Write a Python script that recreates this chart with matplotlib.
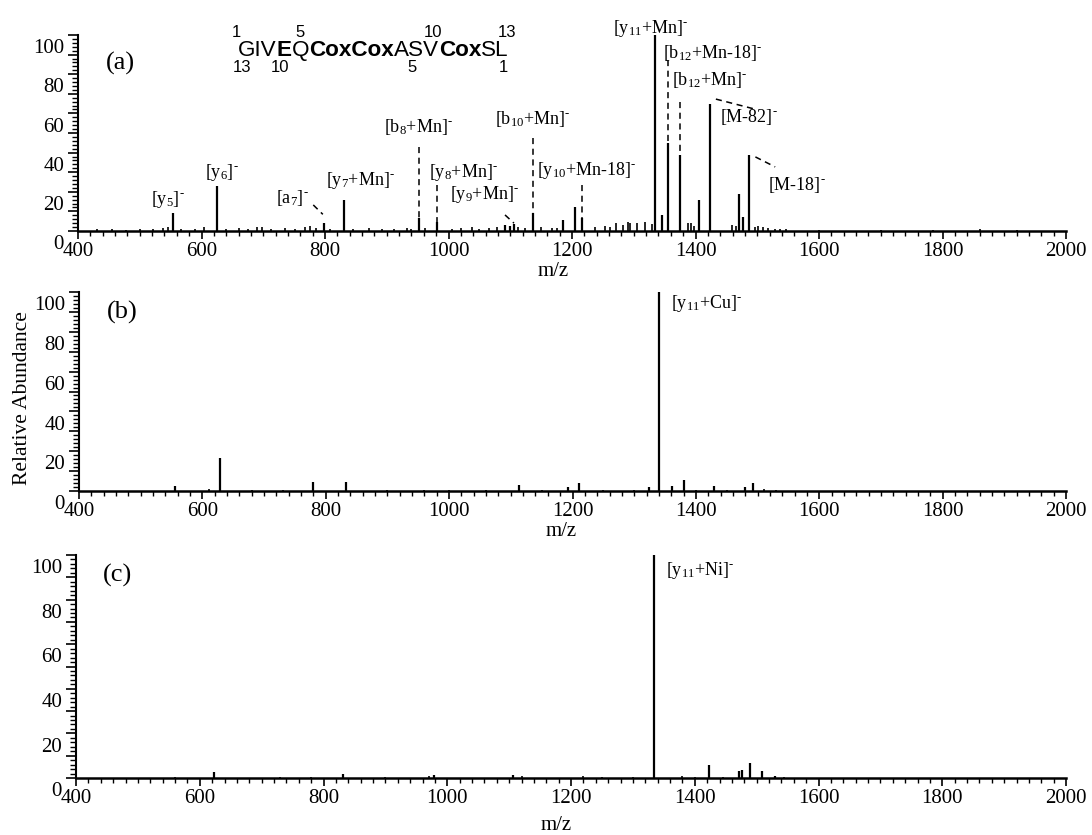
import matplotlib
matplotlib.use("Agg")
import matplotlib.pyplot as plt
from matplotlib.ticker import FixedLocator, MultipleLocator, FuncFormatter
import matplotlib.transforms as mtransforms

plt.rcParams['font.family'] = ['Liberation Serif', 'DejaVu Serif']
plt.rcParams['mathtext.fontset'] = 'custom'
plt.rcParams['mathtext.rm'] = 'Liberation Serif'
plt.rcParams['mathtext.it'] = 'Liberation Serif:italic'

# ---------------- data ----------------
# panel (a): Mn complex
peaks_a_mz = [554, 625, 798, 830, 951.5, 981, 1092, 1100, 1106, 1137, 1186, 1205, 1216,
              1335, 1345, 1356, 1375, 1406, 1424, 1471, 1477, 1487]
peaks_a_int = [9, 23, 4, 16, 6.5, 4.6, 3, 2.5, 3.5, 9, 5.6, 12, 6.5,
               100, 8, 45, 39, 16, 65, 19, 7, 39]
noise_a_mz = [430, 455, 478, 500, 521, 538, 546, 566, 590, 604, 640, 660, 676, 690, 698,
              712, 735, 752, 768, 776, 786, 808, 846, 872, 893, 912, 932, 940, 962, 1006,
              1020, 1038, 1050, 1066, 1078, 1112, 1124, 1150, 1168, 1176, 1237, 1253, 1262,
              1272, 1283, 1291, 1294, 1305, 1318, 1329, 1388, 1393, 1398, 1459, 1466, 1496,
              1502, 1510, 1518, 1528, 1537, 1546, 1600, 1700, 1785, 1860, 1920]
noise_a_int = [0.8, 1.0, 0.7, 1.2, 0.9, 1.5, 2.0, 1.2, 1.0, 1.8, 1.0, 1.4, 1.2, 2.0, 1.8,
               1.0, 1.3, 1.2, 2.2, 2.8, 1.5, 1.2, 1.0, 1.6, 1.2, 1.0, 1.4, 1.1, 1.6, 1.2,
               1.4, 1.8, 1.2, 1.5, 2.0, 2.2, 1.5, 2.0, 1.4, 1.6, 2.2, 2.5, 2.0,
               4.0, 3.0, 4.6, 4.2, 4.0, 4.6, 3.6, 4.0, 4.2, 2.5, 3.0, 2.5, 2.0,
               2.5, 1.8, 1.5, 1.2, 1.0, 0.8, 0.6, 0.5, 0.5, 0.8, 0.5]

# panel (b): Cu complex
peaks_b_mz = [555, 628, 780, 833, 1113, 1192, 1211, 1324, 1341, 1362, 1381, 1429, 1480, 1493]
peaks_b_int = [2.7, 16.5, 4.5, 4.5, 3, 2, 4, 2, 100, 2.5, 5.5, 2.5, 2, 4]
noise_b_mz = [610, 680, 730, 900, 960, 1000, 1060, 1150, 1250, 1300, 1400, 1450, 1510, 1530]
noise_b_int = [0.8, 0.6, 0.5, 0.6, 0.5, 0.6, 0.5, 0.6, 0.5, 0.6, 0.7, 0.6, 0.8, 0.5]

# panel (c): Ni complex
peaks_c_mz = [623, 832, 979, 1106, 1334, 1423, 1472, 1476, 1489, 1508, 1529]
peaks_c_int = [2.7, 2.0, 1.5, 1.5, 100, 5.8, 3, 3.5, 6.7, 3, 1]
noise_c_mz = [560, 730, 780, 900, 970, 1120, 1220, 1250, 1300, 1380, 1400, 1445, 1545]
noise_c_int = [0.5, 0.6, 0.5, 0.6, 0.8, 0.7, 0.8, 0.5, 0.6, 0.7, 0.6, 0.5, 0.6]

MINUS = r"$^{\text{-}}$"
# annotation labels (panel a): text, x(m/z), y(abundance)
labels_a = [
    (r"[y$_{\mathrm{5}}$]" + MINUS, 546, 16),
    (r"[y$_{\mathrm{6}}$]" + MINUS, 633, 30),
    (r"[a$_{\mathrm{7}}$]" + MINUS, 748, 17),
    (r"[y$_{\mathrm{7}}$+Mn]" + MINUS, 857, 26),
    (r"[b$_{\mathrm{8}}$+Mn]" + MINUS, 951, 53),
    (r"[y$_{\mathrm{8}}$+Mn]" + MINUS, 1025, 30),
    (r"[y$_{\mathrm{9}}$+Mn]" + MINUS, 1059, 18.5),
    (r"[b$_{\mathrm{10}}$+Mn]" + MINUS, 1137, 57),
    (r"[y$_{\mathrm{10}}$+Mn-18]" + MINUS, 1223, 31),
    (r"[y$_{\mathrm{11}}$+Mn]" + MINUS, 1328, 103.5),
    (r"[b$_{\mathrm{12}}$+Mn-18]" + MINUS, 1427, 91),
    (r"[b$_{\mathrm{12}}$+Mn]" + MINUS, 1423, 77),
    (r"[M-82]" + MINUS, 1487, 58),
    (r"[M-18]" + MINUS, 1564, 23.5),
]
# dashed leader lines (panel a): x0, y0, x1, y1
leaders_a = [
    (781, 13.3, 796.5, 8.5),
    (951.5, 43, 951.5, 6.5),
    (981, 23.5, 981, 4.6),
    (1091.5, 8.2, 1106, 4),
    (1137, 47.4, 1137, 9),
    (1216, 23.5, 1216, 6.5),
    (1356, 87, 1356, 45),
    (1375, 66, 1375, 39),
    (1433, 67.3, 1496, 62.2),
    (1497, 37.8, 1529, 32.7),
]
label_b = (r"[y$_{\mathrm{11}}$+Cu]" + MINUS, 1418, 94)
label_c = (r"[y$_{\mathrm{11}}$+Ni]" + MINUS, 1408, 93)

seq_segments = [("GIV", False), ("E", True), ("Q", False), ("CoxCox", True),
                ("ASV", False), ("Cox", True), ("SL", False)]
seq_numbers_top = [("1", 236), ("5", 300), ("10", 433), ("13", 507)]
seq_numbers_bottom = [("13", 242), ("10", 280), ("5", 412), ("1", 503)]

xticks = [400, 600, 800, 1000, 1200, 1400, 1600, 1800, 2000]

# ---------------- figure ----------------
W, H = 1092, 835
fig = plt.figure(figsize=(W / 100, H / 100), dpi=100)

def px_axes(left, right, top, bottom):
    return fig.add_axes([left / W, (H - bottom) / H, (right - left) / W, (bottom - top) / H])

ax_a = px_axes(78, 1066, 35, 231)
ax_b = px_axes(79, 1066, 292, 491)
ax_c = px_axes(76, 1066, 555, 778)

def style(ax):
    ax.set_xlim(400, 2000)
    ax.set_ylim(0, 100)
    ax.spines['top'].set_visible(False)
    ax.spines['right'].set_visible(False)
    ax.spines['bottom'].set_linewidth(1.8)
    ax.spines['left'].set_linewidth(1.5)
    ax.xaxis.set_major_locator(FixedLocator(xticks))
    ax.xaxis.set_minor_locator(MultipleLocator(20))
    ax.yaxis.set_major_locator(MultipleLocator(10))
    ax.yaxis.set_minor_locator(MultipleLocator(2))
    ax.yaxis.set_major_formatter(FuncFormatter(lambda v, p: f"{int(round(v))}" if int(round(v)) % 20 == 0 else ""))
    ax.tick_params(axis='x', which='major', direction='out', length=6, width=1.2, labelsize=15, pad=2)
    ax.tick_params(axis='x', which='minor', direction='out', length=3.5, width=1.0)
    ax.tick_params(axis='y', which='major', direction='out', length=7, width=1.2, labelsize=15, pad=3)
    ax.tick_params(axis='y', which='minor', direction='out', length=4.5, width=1.0)
    off = mtransforms.ScaledTranslation(0, -3 / 72, fig.dpi_scale_trans)
    off0 = mtransforms.ScaledTranslation(-5 / 72, -3 / 72, fig.dpi_scale_trans)
    for i, lab in enumerate(ax.get_yticklabels()):
        lab.set_verticalalignment('top')
        lab.set_transform(lab.get_transform() + (off0 if i == 0 else off))

for ax, pm, pi, nm, ni in [(ax_a, peaks_a_mz, peaks_a_int, noise_a_mz, noise_a_int),
                           (ax_b, peaks_b_mz, peaks_b_int, noise_b_mz, noise_b_int),
                           (ax_c, peaks_c_mz, peaks_c_int, noise_c_mz, noise_c_int)]:
    style(ax)
    ax.vlines(nm, 0, ni, color='black', lw=1.2)
    ax.vlines(pm, 0, pi, color='black', lw=1.6)

# annotations panel a
for txt, x, y in labels_a:
    ax_a.text(x, y, txt, ha='center', va='center', fontsize=13)
for x0, y0, x1, y1 in leaders_a:
    ax_a.plot([x0, x1], [y0, y1], color='black', lw=1.1, ls=(0, (4, 3)))
ax_b.text(label_b[1], label_b[2], label_b[0], ha='center', va='center', fontsize=13)
ax_c.text(label_c[1], label_c[2], label_c[0], ha='center', va='center', fontsize=13)

# panel letters
fig.text(120 / W, 1 - 63 / H, "(a)", fontsize=19, ha='center', va='center')
fig.text(122 / W, 1 - 312 / H, "(b)", fontsize=19, ha='center', va='center')
fig.text(117 / W, 1 - 575 / H, "(c)", fontsize=19, ha='center', va='center')

# x labels
fig.text(553 / W, 1 - 271 / H, "m/z", fontsize=15, ha='center', va='center')
fig.text(561 / W, 1 - 532 / H, "m/z", fontsize=15, ha='center', va='center')
fig.text(556 / W, 1 - 826 / H, "m/z", fontsize=15, ha='center', va='center')
fig.text(23 / W, 1 - 398 / H, "Relative Abundance", fontsize=15.5, rotation=90, ha='center', va='center')

# peptide sequence
renderer = fig.canvas.get_renderer()
x = 238.0
base_y = 56
for seg, bold in seq_segments:
    t = fig.text(x / W, 1 - base_y / H, seg, fontsize=16.2, family=['Liberation Sans', 'DejaVu Sans'],
                 fontweight='bold' if bold else 'normal', ha='left', va='baseline')
    x += t.get_window_extent(renderer).width
for s, xc in seq_numbers_top:
    fig.text(xc / W, 1 - 37 / H, s, fontsize=12, family=['Liberation Sans', 'DejaVu Sans'],
             ha='center', va='baseline')
for s, xc in seq_numbers_bottom:
    fig.text(xc / W, 1 - 72 / H, s, fontsize=12, family=['Liberation Sans', 'DejaVu Sans'],
             ha='center', va='baseline')

fig.savefig("out.png", dpi=100)
